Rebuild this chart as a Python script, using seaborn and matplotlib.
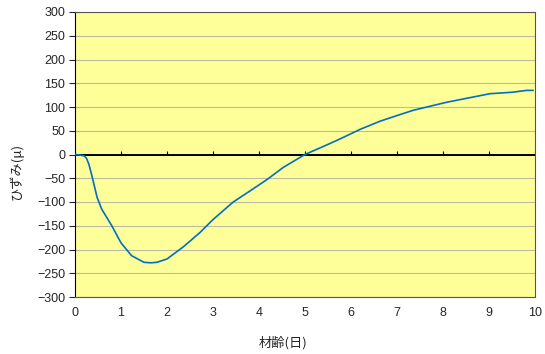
import numpy as np
import pandas as pd
import matplotlib
matplotlib.use("Agg")
import matplotlib.pyplot as plt
import seaborn as sns

# 読み取り値 (材齢 日, ひずみ μ)
age = [0, 0.1, 0.2, 0.25, 0.3, 0.35, 0.4, 0.48, 0.58, 0.8, 1.0, 1.23, 1.5, 1.65,
       1.78, 2.0, 2.36, 2.72, 3.0, 3.44, 3.8, 4.17, 4.53, 5.0, 5.47, 5.7,
       6.2, 6.63, 7.0, 7.35, 8.08, 8.5, 9.02, 9.5, 9.82, 9.96]
strain = [0, -1, -3, -8, -20, -38, -58, -90, -115, -150, -186, -213, -227, -228,
          -227, -220, -194, -164, -137, -100, -77, -53, -27, 0, 20, 30,
          53, 70, 82, 93, 110, 118, 128, 131, 135, 135]

yticks = list(range(-300, 301, 50))
xticks = list(range(0, 11))

df = pd.DataFrame({"age": age, "strain": strain})

sns.set_style("white")
plt.rcParams["font.family"] = ["Liberation Sans", "Noto Sans CJK JP", "DejaVu Sans"]
plt.rcParams["axes.unicode_minus"] = True

fig = plt.figure(figsize=(5.45, 3.54), dpi=100)
ax = fig.add_axes([75 / 545, 1 - 297 / 354, 460 / 545, 285 / 354])
ax.set_facecolor("#FFFF99")

for v in yticks:
    ax.axhline(v, color="#BDBBA0", lw=0.8, zorder=1)
ax.axhline(0, color="black", lw=1.4, zorder=2)
ax.vlines(xticks, 0, 7, color="black", lw=0.8, zorder=2)

sns.lineplot(data=df, x="age", y="strain", ax=ax, color="#0070C0", lw=1.2, zorder=3)

ax.set_xlim(0, 10)
ax.set_ylim(-300, 300)
ax.set_xticks(xticks)
ax.set_yticks(yticks)
ax.tick_params(axis="x", length=0, pad=7, labelsize=9)
ax.tick_params(axis="y", length=4, width=0.8, direction="out", left=True, pad=3, labelsize=9)
for s in ax.spines.values():
    s.set_color("#555555")
    s.set_linewidth(0.8)
ax.spines["left"].set_color("black")

jp = ["Noto Sans CJK JP", "DejaVu Sans"]
ax.set_xlabel("材齢(日)", fontsize=9.5, family=jp)
ax.set_ylabel("ひずみ(μ)", fontsize=9.5, family=jp)
ax.xaxis.set_label_coords((283 - 75) / 460, -39 / 285)
ax.yaxis.set_label_coords(-51 / 460, 0.44)

fig.savefig("out.png", dpi=100)
